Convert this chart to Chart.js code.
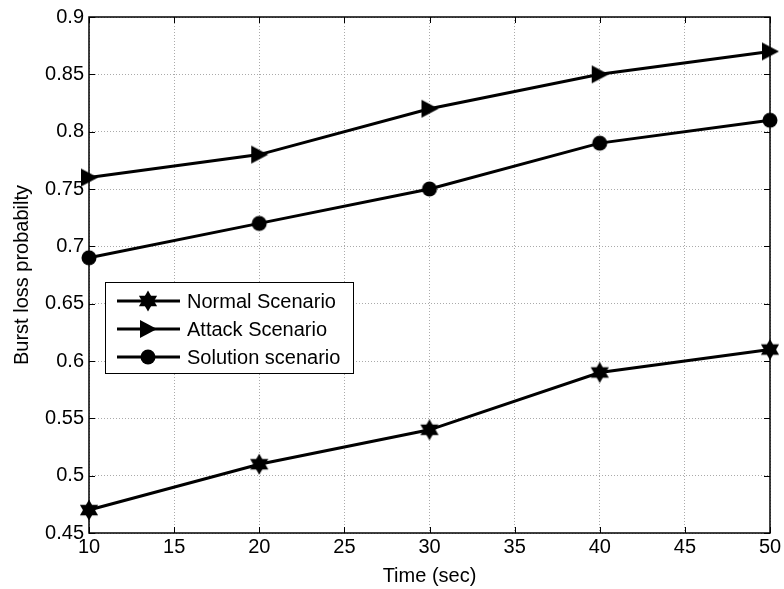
<!DOCTYPE html>
<html>
<head>
<meta charset="utf-8">
<script src="https://cdn.jsdelivr.net/npm/chart.js@4.4.0/dist/chart.umd.min.js"></script>
<style>
    html, body { margin: 0; padding: 0; background: #fff; }
    #wrap { width: 784px; height: 589px; }
</style>
</head>
<body>
<div id="wrap"><canvas id="chart" width="784" height="589"></canvas></div>
<script>
// Data
var timeSec = [10, 20, 30, 40, 50];
var normalScenario = [0.47, 0.51, 0.54, 0.59, 0.61];
var attackScenario = [0.76, 0.78, 0.82, 0.85, 0.87];
var solutionScenario = [0.69, 0.72, 0.75, 0.79, 0.81];
var xTicks = [10, 15, 20, 25, 30, 35, 40, 45, 50];
var yTicks = [0.45, 0.5, 0.55, 0.6, 0.65, 0.7, 0.75, 0.8, 0.85, 0.9];

var FONT = '"Liberation Sans", Arial, Helvetica, sans-serif';
var FSIZE = 20;

// MATLAB-like filled markers
function makeMarker(kind) {
    var c = document.createElement('canvas');
    c.width = 24; c.height = 24;
    var ctx = c.getContext('2d');
    ctx.fillStyle = '#000';
    var cx = 12, cy = 12;
    if (kind === 'hexagram') {
        var R = 10.5;
        [-90, 90].forEach(function(start) {
            ctx.beginPath();
            for (var k = 0; k < 3; k++) {
                var a = (start + k * 120) * Math.PI / 180;
                var px = cx + R * Math.cos(a), py = cy + R * Math.sin(a);
                if (k === 0) ctx.moveTo(px, py); else ctx.lineTo(px, py);
            }
            ctx.closePath();
            ctx.fill();
        });
    } else if (kind === 'triangle') {
        ctx.beginPath();
        ctx.moveTo(cx + 9, cy);
        ctx.lineTo(cx - 8, cy - 9);
        ctx.lineTo(cx - 8, cy + 9);
        ctx.closePath();
        ctx.fill();
    } else {
        ctx.beginPath();
        ctx.arc(cx, cy, 7.5, 0, Math.PI * 2);
        ctx.fill();
    }
    return c;
}

var starMarker = makeMarker('hexagram');
var triMarker = makeMarker('triangle');
var dotMarker = makeMarker('circle');

function toPoints(ys) {
    return timeSec.map(function(x, i) { return { x: x, y: ys[i] }; });
}

function lineSet(label, ys, marker) {
    return {
        label: label,
        data: toPoints(ys),
        borderColor: '#000',
        backgroundColor: '#000',
        borderWidth: 3,
        pointStyle: marker,
        pointRadius: 10,
        pointHoverRadius: 10,
        tension: 0,
        clip: false
    };
}

// Box frame with inward tick marks, like MATLAB axes
var framePlugin = {
    id: 'frame',
    afterDatasetsDraw: function(chart) {
        var ctx = chart.ctx, a = chart.chartArea;
        var xs = chart.scales.x, ys = chart.scales.y;
        ctx.save();
        ctx.strokeStyle = '#000';
        ctx.lineWidth = 1;
        ctx.beginPath();
        xTicks.forEach(function(t) {
            var px = Math.round(xs.getPixelForValue(t)) + 0.5;
            ctx.moveTo(px, a.bottom); ctx.lineTo(px, a.bottom - 6);
            ctx.moveTo(px, a.top); ctx.lineTo(px, a.top + 6);
        });
        yTicks.forEach(function(t) {
            var py = Math.round(ys.getPixelForValue(t)) + 0.5;
            ctx.moveTo(a.left, py); ctx.lineTo(a.left + 6, py);
            ctx.moveTo(a.right, py); ctx.lineTo(a.right - 6, py);
        });
        ctx.stroke();
        ctx.lineWidth = 1.5;
        ctx.strokeRect(a.left, a.top, a.right - a.left, a.bottom - a.top);
        ctx.restore();
    }
};

// Legend box inside the axes
var legendBoxPlugin = {
    id: 'legendBox',
    afterDraw: function(chart) {
        var ctx = chart.ctx, a = chart.chartArea;
        var bx = a.left + 16, by = 282, bw = 248, bh = 91;
        ctx.save();
        ctx.fillStyle = '#fff';
        ctx.fillRect(bx, by, bw, bh);
        ctx.strokeStyle = '#000';
        ctx.lineWidth = 1;
        ctx.strokeRect(bx + 0.5, by + 0.5, bw, bh);
        ctx.font = FSIZE + 'px ' + FONT;
        ctx.textBaseline = 'middle';
        ctx.fillStyle = '#000';
        chart.data.datasets.forEach(function(ds, i) {
            var ry = by + 19 + i * 28;
            ctx.lineWidth = 3;
            ctx.beginPath();
            ctx.moveTo(bx + 12, ry);
            ctx.lineTo(bx + 75, ry);
            ctx.stroke();
            var m = ds.pointStyle;
            ctx.drawImage(m, bx + 43 - m.width / 2, ry - m.height / 2);
            ctx.fillText(ds.label, bx + 82, ry + 1);
        });
        ctx.restore();
    }
};

var chart = new Chart(document.getElementById('chart').getContext('2d'), {
    type: 'line',
    data: {
        datasets: [
            lineSet('Normal Scenario', normalScenario, starMarker),
            lineSet('Attack Scenario', attackScenario, triMarker),
            lineSet('Solution scenario', solutionScenario, dotMarker)
        ]
    },
    options: {
        responsive: false,
        animation: false,
        layout: { padding: { top: 15, right: 14, left: 0, bottom: 0 } },
        plugins: {
            legend: { display: false },
            tooltip: { enabled: false }
        },
        scales: {
            x: {
                type: 'linear',
                min: 10,
                max: 50,
                afterBuildTicks: function(s) {
                    s.ticks = xTicks.map(function(v) { return { value: v }; });
                },
                afterFit: function(s) { s.height = 56; },
                ticks: {
                    color: '#000',
                    font: { family: FONT, size: FSIZE },
                    padding: 2,
                    maxRotation: 0
                },
                grid: { color: '#aaa', lineWidth: 1, drawTicks: false },
                border: { display: false, dash: [1, 2] },
                title: {
                    display: true,
                    text: 'Time (sec)',
                    color: '#000',
                    font: { family: FONT, size: FSIZE },
                    padding: { top: 0, bottom: 1 }
                }
            },
            y: {
                type: 'linear',
                min: 0.45,
                max: 0.9,
                afterBuildTicks: function(s) {
                    s.ticks = yTicks.map(function(v) { return { value: v }; });
                },
                afterFit: function(s) { s.width = 89; },
                ticks: {
                    color: '#000',
                    font: { family: FONT, size: FSIZE },
                    padding: 5,
                    callback: function(v) { return String(Math.round(v * 100) / 100); }
                },
                grid: { color: '#aaa', lineWidth: 1, drawTicks: false },
                border: { display: false, dash: [1, 2] },
                title: {
                    display: true,
                    text: 'Burst loss probabilty',
                    color: '#000',
                    font: { family: FONT, size: FSIZE },
                    padding: { top: 10, bottom: 0 }
                }
            }
        }
    },
    plugins: [framePlugin, legendBoxPlugin]
});
</script>
</body>
</html>
